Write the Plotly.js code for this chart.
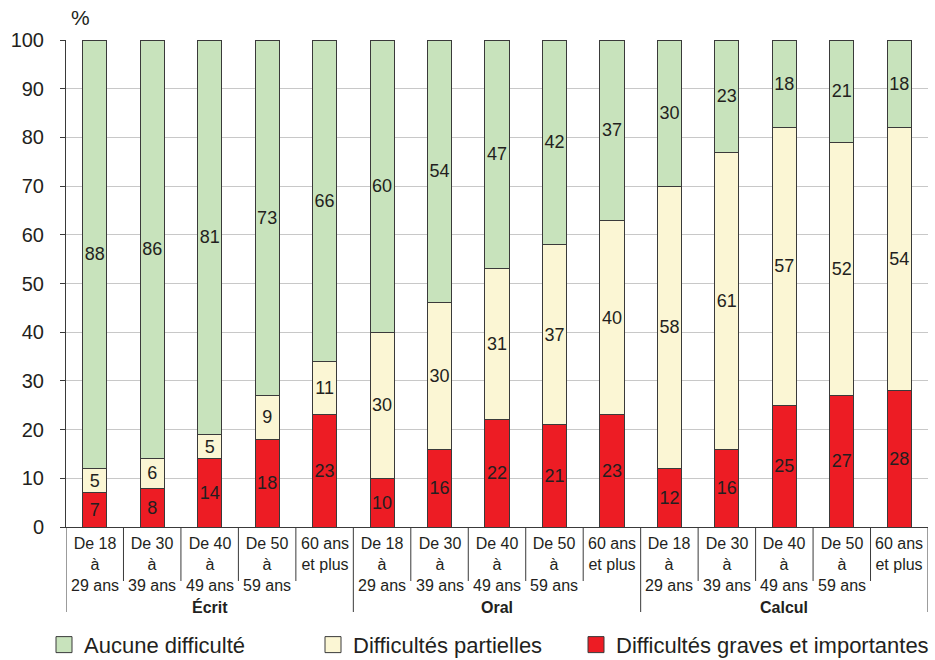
<!DOCTYPE html>
<html>
<head>
<meta charset="utf-8">
<script src="https://cdn.plot.ly/plotly-3.0.1.min.js"></script>
<style>html,body{margin:0;padding:0;background:#fff;}#chart{width:935px;height:660px;}</style>
</head>
<body>
<div id="chart"></div>
<script>
const groups = ["Écrit", "Oral", "Calcul"];
const ageLabels = ["De 18<br>à<br>29 ans", "De 30<br>à<br>39 ans", "De 40<br>à<br>49 ans", "De 50<br>à<br>59 ans", "60 ans<br>et plus"];
const seriesNames = ["Difficultés graves et importantes", "Difficultés partielles", "Aucune difficulté"];
const graves     = [7, 8, 14, 18, 23, 10, 16, 22, 21, 23, 12, 16, 25, 27, 28];
const partielles = [5, 6, 5, 9, 11, 30, 30, 31, 37, 40, 58, 61, 57, 52, 54];
const aucune     = [88, 86, 81, 73, 66, 60, 54, 47, 42, 37, 30, 23, 18, 21, 18];
const yTicks = [0, 10, 20, 30, 40, 50, 60, 70, 80, 90, 100];

const colors = ["#ED1C24", "#FBF6D4", "#C8E3BC"];
const FONT = "Liberation Sans, Arial, Helvetica, sans-serif";
const TXT = "#231F20";
const nG = ageLabels.length;
const xIdx = [];
for (let g = 0; g < groups.length; g++) for (let a = 0; a < nG; a++) xIdx.push(g * nG + a);

const seriesVals = [graves, partielles, aucune];
const traces = seriesVals.map((vals, k) => ({
  type: "bar",
  x: xIdx,
  y: vals,
  name: seriesNames[k],
  legendgroup: "g" + k,
  showlegend: false,
  width: 0.42,
  marker: {color: colors[k], line: {color: "#3a3a3a", width: 1}},
  text: vals.map(String),
  textposition: "inside",
  insidetextanchor: "middle",
  textangle: 0,
  constraintext: "none",
  textfont: {family: FONT, size: 18, color: TXT},
  hoverinfo: "name+y"
}));
// legend proxies (order: Aucune, partielles, graves), one legend each
const legendIds = ["legend", "legend2", "legend3"];
[2, 1, 0].forEach((k, li) => {
  traces.push({
    type: "scatter", mode: "markers", x: [null], y: [null],
    name: seriesNames[k], legendgroup: "g" + k, showlegend: true, legend: legendIds[li],
    marker: {symbol: "square", size: 16, color: colors[k], line: {color: "#3a3a3a", width: 1}},
    hoverinfo: "skip"
  });
});

const annotations = [];
xIdx.forEach((xi, i) => {
  annotations.push({
    x: xi, xref: "x", y: 0, yref: "y", yanchor: "top", xanchor: "center",
    yshift: -6, text: ageLabels[i % nG], showarrow: false,
    font: {family: FONT, size: 16, color: TXT}
  });
});
groups.forEach((g, gi) => {
  annotations.push({
    x: gi * nG + (nG - 1) / 2, xref: "x", y: 0, yref: "y", yanchor: "middle",
    yshift: -80, text: "<b>" + g + "</b>", showarrow: false,
    font: {family: FONT, size: 16, color: TXT}
  });
});
annotations.push({
  x: 0, xref: "paper", xshift: 3, y: 1, yref: "paper", yanchor: "middle", yshift: 23,
  text: "%", showarrow: false, font: {family: FONT, size: 21, color: TXT}
});

const shapes = [];
for (let b = 0; b <= xIdx.length; b++) {
  const xb = b - 0.5;
  const isGroup = (b % nG === 0);
  shapes.push({
    type: "line", xref: "x", yref: "paper", x0: xb, x1: xb,
    y0: 0, y1: isGroup ? -85 / 487 : -54 / 487,
    line: {color: "#3a3a3a", width: 1}
  });
}

function legendAt(px) {
  return {
    orientation: "h", xref: "container", yref: "container",
    x: px / 935, xanchor: "left", y: 0.023, yanchor: "middle",
    itemsizing: "trace",
    font: {family: FONT, size: 22, color: TXT}, bgcolor: "rgba(0,0,0,0)"
  };
}

const layout = {
  width: 935, height: 660,
  margin: {l: 66, r: 7, t: 40, b: 133},
  paper_bgcolor: "#fff", plot_bgcolor: "#fff",
  barmode: "stack",
  showlegend: true,
  uniformtext: {mode: "show", minsize: 18},
  font: {family: FONT, color: TXT},
  xaxis: {
    range: [-0.5, 14.5], showticklabels: false, showgrid: false, zeroline: false,
    showline: true, linecolor: "#3a3a3a", linewidth: 1, ticks: "", fixedrange: true
  },
  yaxis: {
    range: [0, 100], tickvals: yTicks, ticktext: yTicks.map(String),
    showgrid: true, gridcolor: "#c8c8c8", gridwidth: 1, zeroline: false,
    showline: true, linecolor: "#3a3a3a", linewidth: 1,
    ticks: "outside", ticklen: 5, tickcolor: "#3a3a3a", ticklabelstandoff: 12,
    tickfont: {family: FONT, size: 20, color: TXT}, fixedrange: true
  },
  legend: legendAt(44),
  legend2: legendAt(313),
  legend3: legendAt(576),
  annotations: annotations,
  shapes: shapes
};
Plotly.newPlot("chart", traces, layout, {displayModeBar: false, staticPlot: true});
</script>
</body>
</html>
